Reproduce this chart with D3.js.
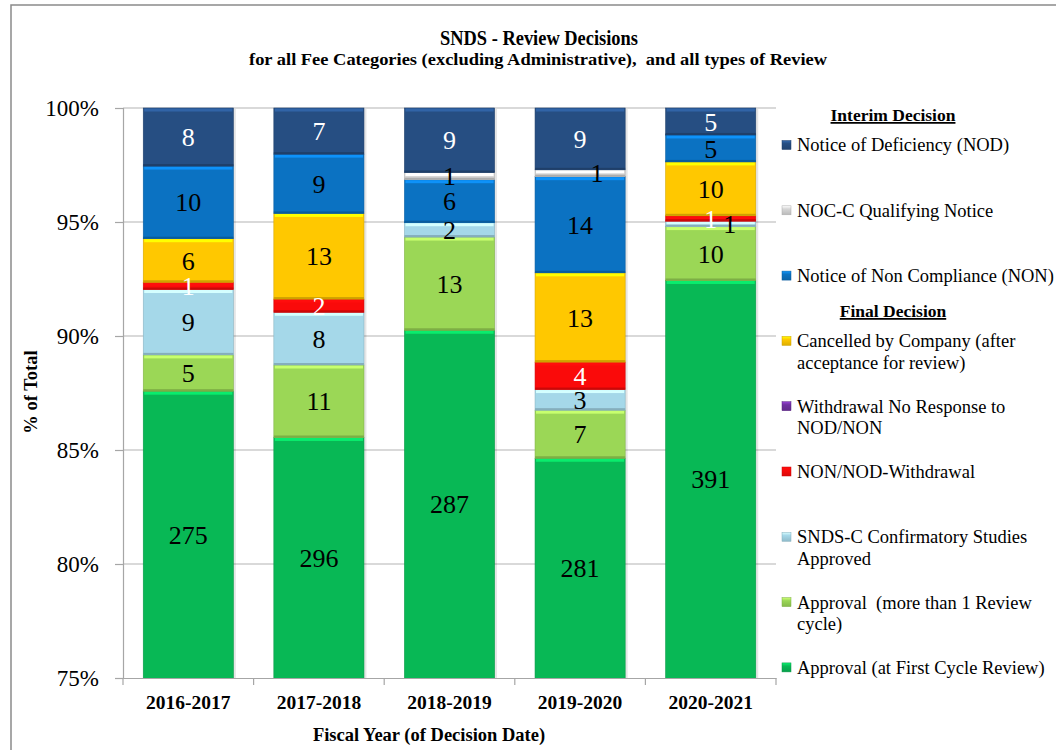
<!DOCTYPE html>
<html>
<head>
<meta charset="utf-8">
<script src="https://cdn.jsdelivr.net/npm/d3@7"></script>
<style>
  body { margin: 0; background: #fff; }
  text { font-family: "Liberation Serif", "Times New Roman", serif; }
</style>
</head>
<body>
<svg id="chart" width="1056" height="750"></svg>
<script>
// fiscal years on the x axis
const years = ['2016-2017', '2017-2018', '2018-2019', '2019-2020', '2020-2021'];

// counts per decision type, bottom of the stack first
const approvalFirst = [275, 296, 287, 281, 391];
const approvalMulti = [5, 11, 13, 7, 10];
const sndsConfirm = [9, 8, 2, 3, 1];
const nonNodWithdrawal = [1, 2, 0, 4, 1];
const withdrawalNoResp = [0, 0, 0, 0, 0];
const cancelled = [6, 13, 0, 13, 10];
const nonCompliance = [10, 9, 6, 14, 5];
const nocQualifying = [0, 0, 1, 1, 0];
const deficiency = [8, 7, 9, 9, 5];

const yTicks = [0.75, 0.80, 0.85, 0.90, 0.95, 1.00];

var keys = ['approvalFirst', 'approvalMulti', 'sndsConfirm', 'nonNodWithdrawal',
  'withdrawalNoResp', 'cancelled', 'nonCompliance', 'nocQualifying', 'deficiency'];
var seriesData = {approvalFirst, approvalMulti, sndsConfirm, nonNodWithdrawal,
  withdrawalNoResp, cancelled, nonCompliance, nocQualifying, deficiency};

var colors = {
  approvalFirst: '#08b855', approvalMulti: '#9bd756', sndsConfirm: '#a5d8e9',
  nonNodWithdrawal: '#fa0a0a', withdrawalNoResp: '#7030a0', cancelled: '#ffc800',
  nonCompliance: '#0b72c2', nocQualifying: '#d6d6d6', deficiency: '#264e82'
};
var labelColors = {nonNodWithdrawal: '#fff', deficiency: '#fff'};

// legend, top to bottom
var legendKeys = ['deficiency', 'nocQualifying', 'nonCompliance', 'cancelled',
  'withdrawalNoResp', 'nonNodWithdrawal', 'sndsConfirm', 'approvalMulti', 'approvalFirst'];
var legendText = {
  deficiency: ['Notice of Deficiency (NOD)'],
  nocQualifying: ['NOC-C Qualifying Notice'],
  nonCompliance: ['Notice of Non Compliance (NON)'],
  cancelled: ['Cancelled by Company (after', 'acceptance for review)'],
  withdrawalNoResp: ['Withdrawal No Response to', 'NOD/NON'],
  nonNodWithdrawal: ['NON/NOD-Withdrawal'],
  sndsConfirm: ['SNDS-C Confirmatory Studies', 'Approved'],
  approvalMulti: ['Approval  (more than 1 Review', 'cycle)'],
  approvalFirst: ['Approval (at First Cycle Review)']
};

// labels Excel had pushed sideways
var labelNudge = {'2019-2020|nocQualifying': 17, '2020-2021|sndsConfirm': 19};

var table = years.map(function(yr, i) {
  var row = {year: yr};
  keys.forEach(function(k) { row[k] = seriesData[k][i]; });
  return row;
});

var svg = d3.select('#chart');
var plotLeft = 123, plotRight = 776, plotTop = 108, plotBottom = 678;
var serif = '"Liberation Serif", "Times New Roman", serif';

// outer chart border
svg.append('rect')
  .attr('x', 11).attr('y', 5).attr('width', 1100).attr('height', 800)
  .attr('fill', 'none').attr('stroke', '#8a8a8a').attr('stroke-width', 1.5);

var x = d3.scaleBand().domain(years).range([plotLeft, plotRight])
  .paddingInner(0.31).paddingOuter(0.155);
var y = d3.scaleLinear().domain([0.75, 1]).range([plotBottom, plotTop]);

// gridlines
svg.append('g').selectAll('line').data(yTicks.slice(1)).join('line')
  .attr('x1', plotLeft).attr('x2', plotRight)
  .attr('y1', function(d) { return y(d); }).attr('y2', function(d) { return y(d); })
  .attr('stroke', '#b4b4b4').attr('stroke-width', 1.2);

var defs = svg.append('defs');
defs.append('clipPath').attr('id', 'plotclip').append('rect')
  .attr('x', plotLeft).attr('y', plotTop - 1)
  .attr('width', plotRight - plotLeft + 6).attr('height', plotBottom - plotTop + 1);

var stacked = d3.stack().keys(keys).offset(d3.stackOffsetExpand)(table);

var bars = svg.append('g').attr('clip-path', 'url(#plotclip)');
var bw = x.bandwidth();

// soft shadow right of each bar
bars.selectAll('.shadow').data(years).join('rect')
  .attr('class', 'shadow')
  .attr('x', function(d) { return x(d) + 1; }).attr('y', plotTop + 1)
  .attr('width', bw + 1.5).attr('height', plotBottom - plotTop)
  .attr('fill', '#000').attr('opacity', 0.1);

stacked.forEach(function(layer) {
  var c = colors[layer.key];
  var segs = layer.filter(function(d) { return d.data[layer.key] > 0; });
  var sel = bars.append('g').selectAll('g').data(segs).join('g');
  sel.append('rect')
    .attr('x', function(d) { return x(d.data.year); })
    .attr('y', function(d) { return y(d[1]); })
    .attr('width', bw)
    .attr('height', function(d) { return y(d[0]) - y(d[1]); })
    .attr('fill', c)
    .attr('stroke', d3.color(c).darker(0.5)).attr('stroke-width', 0.6);
  // bevel highlight on top edge
  sel.append('rect')
    .attr('x', function(d) { return x(d.data.year) + 1; })
    .attr('y', function(d) { return y(d[1]) + 0.5; })
    .attr('width', bw - 2)
    .attr('height', function(d) { return Math.max(0.5, Math.min(3, y(d[0]) - y(d[1]) - 1)); })
    .attr('fill', d3.color(c).brighter(0.7));
  // darker bottom edge
  sel.append('rect')
    .attr('x', function(d) { return x(d.data.year); })
    .attr('y', function(d) { return y(d[0]) - 2; })
    .attr('width', bw).attr('height', 2)
    .attr('fill', d3.color(c).darker(0.6));
});

// value labels
var labels = svg.append('g');
stacked.forEach(function(layer) {
  var segs = layer.filter(function(d) { return d.data[layer.key] > 0; });
  labels.append('g').selectAll('text').data(segs).join('text')
    .attr('x', function(d) {
      return x(d.data.year) + bw / 2 + (labelNudge[d.data.year + '|' + layer.key] || 0);
    })
    .attr('y', function(d) {
      var y0 = Math.min(y(d[0]), plotBottom), y1 = y(d[1]);
      return (y0 + y1) / 2;
    })
    .attr('dy', '0.35em')
    .attr('text-anchor', 'middle')
    .attr('font-size', 26)
    .attr('fill', labelColors[layer.key] || '#000')
    .text(function(d) { return d.data[layer.key]; });
});

// y axis
var yAxis = svg.append('g').attr('transform', 'translate(' + plotLeft + ',0)')
  .call(d3.axisLeft(y).tickValues(yTicks).tickFormat(d3.format('.0%')).tickSize(8).tickPadding(16));
yAxis.select('.domain').attr('stroke', '#a6a6a6').attr('stroke-width', 1.2);
yAxis.selectAll('.tick line').attr('stroke', '#a6a6a6').attr('stroke-width', 1.2);
yAxis.selectAll('.tick text').attr('font-size', 23).attr('fill', '#000').attr('font-family', serif);

// x axis
var xAxis = svg.append('g').attr('transform', 'translate(0,' + plotBottom + ')')
  .call(d3.axisBottom(x).tickSize(0).tickPadding(17));
xAxis.select('.domain').attr('stroke', '#a6a6a6').attr('stroke-width', 1.2);
xAxis.selectAll('.tick text').attr('font-size', 19.5).attr('font-weight', 'bold')
  .attr('fill', '#000').attr('font-family', serif);
// tick marks between categories
xAxis.selectAll('.sep').data(d3.range(years.length + 1)).join('line')
  .attr('class', 'sep')
  .attr('x1', function(i) { return plotLeft + i * x.step(); })
  .attr('x2', function(i) { return plotLeft + i * x.step(); })
  .attr('y1', 0).attr('y2', 7)
  .attr('stroke', '#a6a6a6').attr('stroke-width', 1.2);

// titles
svg.append('text').attr('x', 539).attr('y', 45).attr('text-anchor', 'middle')
  .attr('font-size', 22).attr('font-weight', 'bold')
  .attr('textLength', 198).attr('lengthAdjust', 'spacingAndGlyphs')
  .text('SNDS - Review Decisions');
svg.append('text').attr('x', 538).attr('y', 65).attr('text-anchor', 'middle')
  .attr('font-size', 17).attr('font-weight', 'bold')
  .attr('xml:space', 'preserve').style('white-space', 'pre')
  .attr('textLength', 578).attr('lengthAdjust', 'spacingAndGlyphs')
  .text('for all Fee Categories (excluding Administrative),  and all types of Review');
svg.append('text').attr('x', 429).attr('y', 741).attr('text-anchor', 'middle')
  .attr('font-size', 18.5).attr('font-weight', 'bold').text('Fiscal Year (of Decision Date)');
svg.append('text').attr('transform', 'translate(37,392) rotate(-90)').attr('text-anchor', 'middle')
  .attr('font-size', 18.5).attr('font-weight', 'bold').text('% of Total');

// legend
var legend = svg.append('g');
legend.append('text').attr('x', 893).attr('y', 121).attr('text-anchor', 'middle')
  .attr('font-size', 17.5).attr('font-weight', 'bold').attr('text-decoration', 'underline')
  .text('Interim Decision');
legend.append('text').attr('x', 893).attr('y', 317).attr('text-anchor', 'middle')
  .attr('font-size', 17.5).attr('font-weight', 'bold').attr('text-decoration', 'underline')
  .text('Final Decision');

legendKeys.forEach(function(k, i) {
  var cy = 145 + i * 65.3;
  var c = colors[k];
  var grad = defs.append('linearGradient').attr('id', 'lg-' + k)
    .attr('x1', 0).attr('y1', 0).attr('x2', 0).attr('y2', 1);
  grad.append('stop').attr('offset', 0).attr('stop-color', d3.color(c).brighter(0.8));
  grad.append('stop').attr('offset', 0.35).attr('stop-color', c);
  grad.append('stop').attr('offset', 1).attr('stop-color', d3.color(c).darker(0.4));
  legend.append('rect').attr('x', 782).attr('y', cy - 4.5).attr('width', 9).attr('height', 9)
    .attr('fill', 'url(#lg-' + k + ')').attr('stroke', d3.color(c).darker(0.6)).attr('stroke-width', 0.5);
  var t = legend.append('text').attr('x', 797).attr('y', cy).attr('font-size', 18.5)
    .attr('xml:space', 'preserve').style('white-space', 'pre');
  legendText[k].forEach(function(line, j) {
    t.append('tspan').attr('x', 797).attr('dy', j === 0 ? '0.35em' : '1.15em').text(line);
  });
});
</script>
</body>
</html>
